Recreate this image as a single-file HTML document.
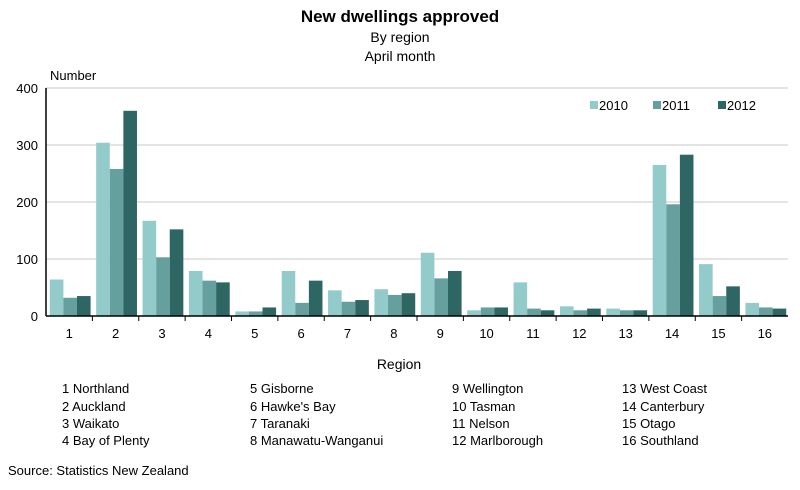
<!DOCTYPE html>
<html><head><meta charset="utf-8"><style>
body{margin:0;background:#fff;font-family:"Liberation Sans",Arial,sans-serif;}
svg text{font-family:"Liberation Sans",Arial,sans-serif;fill:#000;}
</style></head><body>
<svg id="chart" width="800" height="485" xmlns="http://www.w3.org/2000/svg">
<text x="400" y="22" text-anchor="middle" font-size="17" font-weight="bold">New dwellings approved</text>
<text x="400" y="42" text-anchor="middle" font-size="14">By region</text>
<text x="400" y="61" text-anchor="middle" font-size="14">April month</text>
<text x="50" y="80" font-size="13">Number</text>
<g id="grid"></g><g id="bars"></g><g id="axes"></g>
<text x="399" y="369" text-anchor="middle" font-size="14">Region</text>
<g id="legend"></g>
<g id="regions" font-size="13"></g>
<text x="8" y="475" font-size="13">Source: Statistics New Zealand</text>
</svg>
<script>
const categories=["1","2","3","4","5","6","7","8","9","10","11","12","13","14","15","16"];
const series2010=[64,304,167,79,8,79,45,47,111,10,59,17,13,265,91,23];
const series2011=[32,258,103,62,8,23,25,37,66,15,13,10,10,196,35,15];
const series2012=[35,360,152,59,15,62,28,40,79,15,10,13,10,283,52,13];
const seriesNames=["2010","2011","2012"];
const yTicks=[0,100,200,300,400];
const regionNames=["1 Northland","2 Auckland","3 Waikato","4 Bay of Plenty","5 Gisborne","6 Hawke's Bay","7 Taranaki","8 Manawatu-Wanganui","9 Wellington","10 Tasman","11 Nelson","12 Marlborough","13 West Coast","14 Canterbury","15 Otago","16 Southland"];

const NS="http://www.w3.org/2000/svg";
const colors=["#93cbcb","#66a09e","#2e6663"];
const x0=46,x1=788,y0=316,yTop=88;
const ymax=400;
const yScale=v=>y0-(v/ymax)*(y0-yTop);
const pitch=(x1-x0)/categories.length;
const bw=13.6;
function mk(tag,attrs,parent){const e=document.createElementNS(NS,tag);for(const k in attrs)e.setAttribute(k,attrs[k]);parent.appendChild(e);return e;}
const grid=document.getElementById('grid'),bars=document.getElementById('bars'),axes=document.getElementById('axes'),legend=document.getElementById('legend'),regions=document.getElementById('regions');
yTicks.forEach(t=>{
  const y=yScale(t);
  if(t>0){const l=mk('line',{x1:x0,x2:x1,y1:y,y2:y,stroke:'#c8c8c8','stroke-width':1},grid);
  
  }
  const tx=mk('text',{x:38,y:y+5,'text-anchor':'end','font-size':13},axes);tx.textContent=t;
  
  
});
const all=[series2010,series2011,series2012];
categories.forEach((c,i)=>{
  const gx=x0+i*pitch+3.8;
  all.forEach((s,k)=>{
    const y=yScale(s[i]);
    const r=mk('rect',{x:gx+k*bw,y:y,width:bw,height:y0-y,fill:colors[k]},bars);
    
    
  });
  const tx=mk('text',{x:x0+(i+0.5)*pitch,y:338,'text-anchor':'middle','font-size':13},axes);tx.textContent=c;
  
  
  if(i>0){const tk=mk('line',{x1:x0+i*pitch,x2:x0+i*pitch,y1:y0,y2:y0+5,stroke:'#000'},axes);
  
  }
});
const ya=mk('line',{x1:x0,x2:x0,y1:yTop,y2:y0,stroke:'#000','stroke-width':1.5},axes);


const xa=mk('line',{x1:x0,x2:x1,y1:y0,y2:y0,stroke:'#000','stroke-width':1.5},axes);


[590,653,718].forEach((lx,k)=>{
  const g=mk('g',{},legend);
  
  
  mk('rect',{x:lx,y:101,width:8,height:8,fill:colors[k]},g);
  const t=mk('text',{x:lx+9,y:110,'font-size':13},g);t.textContent=seriesNames[k];
});
const colX=[62,250,452,622],rowY=[393,411,428,445];
regionNames.forEach((n,i)=>{
  const t=mk('text',{x:colX[Math.floor(i/4)],y:rowY[i%4]},regions);t.textContent=n;
  
  
});
</script>
</body></html>
